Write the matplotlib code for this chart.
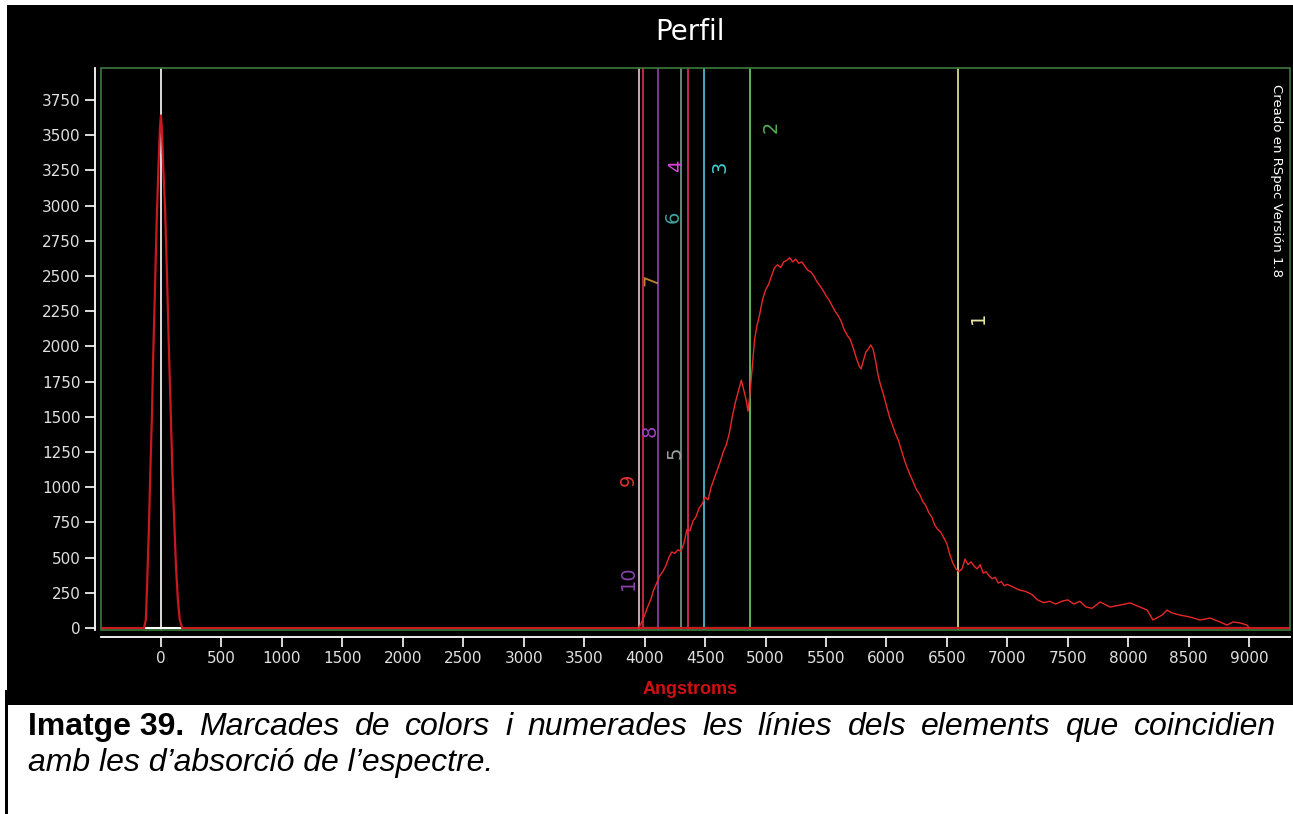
import matplotlib
matplotlib.use('Agg')
import matplotlib.pyplot as plt
from matplotlib.patches import Rectangle

# spectrum profile (wavelength in angstroms, counts)
peak_wl = [-500, -140, -125, -115, -100, -90, -75, -65, -50, -35, -20, -8, 0, 8, 20, 35, 50, 65, 80, 95, 110, 125, 140, 155, 175, 9340]
peak_val = [0, 0, 60, 300, 700, 1050, 1500, 1900, 2400, 2900, 3300, 3560, 3640, 3540, 3250, 2950, 2500, 2000, 1550, 1100, 750, 420, 200, 60, 0, 0]

spec_wl = [3950, 3975, 4000, 4025, 4050, 4075, 4100, 4125, 4150, 4175, 4200, 4225, 4250, 4275, 4300,
           4325, 4350, 4375, 4400, 4425, 4450, 4475, 4500, 4525, 4550, 4575, 4600, 4625, 4650, 4675,
           4700, 4725, 4750, 4775, 4800, 4820, 4840, 4855, 4870, 4890, 4910, 4930, 4950, 4975, 5000,
           5025, 5050, 5075, 5100, 5125, 5150, 5175, 5200, 5225, 5250, 5275, 5300, 5325, 5350, 5375,
           5400, 5425, 5450, 5475, 5500, 5525, 5550, 5575, 5600, 5625, 5650, 5675, 5700, 5725, 5750,
           5775, 5790, 5810, 5830, 5850, 5870, 5890, 5910, 5930, 5950, 5975, 6000, 6025, 6050, 6075,
           6100, 6125, 6150, 6175, 6200, 6225, 6250, 6275, 6300, 6325, 6350, 6375, 6400, 6425, 6450,
           6475, 6500, 6525, 6550, 6575, 6600, 6625, 6650, 6675, 6700, 6725, 6750, 6775, 6800, 6825,
           6850, 6875, 6900, 6925, 6950, 6975, 7000, 7050, 7100, 7150, 7200, 7250, 7300, 7350, 7400,
           7450, 7500, 7550, 7600, 7650, 7700, 7767, 7850, 7932, 8015, 8098, 8156, 8205, 8280, 8321,
           8362, 8429, 8511, 8594, 8677, 8759, 8817, 8867, 8925, 8983, 9000]
spec_val = [0, 40, 90, 150, 200, 270, 320, 370, 400, 440, 500, 540, 530, 555, 545,
            600, 700, 690, 760, 790, 850, 880, 930, 910, 1000, 1060, 1120, 1180, 1250, 1300,
            1380, 1500, 1600, 1680, 1760, 1690, 1620, 1540, 1650, 1850, 2050, 2150, 2220, 2330, 2400,
            2440, 2500, 2560, 2580, 2560, 2600, 2610, 2630, 2600, 2620, 2590, 2600, 2570, 2540, 2530,
            2500, 2460, 2430, 2400, 2360, 2330, 2290, 2250, 2220, 2180, 2120, 2080, 2050, 1990, 1920,
            1860, 1840, 1900, 1960, 1980, 2010, 1980, 1900, 1800, 1730, 1660, 1580, 1500, 1440, 1380,
            1330, 1260, 1190, 1130, 1080, 1030, 980, 950, 900, 870, 820, 790, 730, 700, 680,
            640, 600, 520, 460, 420, 400, 420, 490, 450, 470, 440, 420, 450, 390, 400,
            370, 350, 360, 320, 330, 300, 310, 290, 270, 260, 240, 200, 180, 190, 170,
            190, 200, 170, 190, 150, 140, 185, 149, 163, 178, 149, 128, 57, 92, 128,
            107, 92, 78, 57, 71, 43, 21, 43, 36, 21, 0]

# marked element lines
line_wl = [0, 3950, 3985, 4110, 4305, 4355, 4490, 4870, 6590]
line_colors = ['#ffffff', '#e8c4cc', '#e0304a', '#9640b4', '#70a48c', '#e0306a', '#50c8e0', '#70d070', '#ece8a0']

label_text = ['1', '2', '3', '4', '5', '6', '7', '8', '9', '10']
label_x = [6760, 5050, 4620, 4265, 4250, 4240, 4060, 4045, 3865, 3865]
label_y = [2200, 3560, 3275, 3280, 1245, 2920, 2470, 1400, 1050, 360]
label_colors = ['#e8e8a0', '#50b050', '#40d0d0', '#e040e0', '#a0a0a0', '#40a0a0', '#c08030', '#a040c0', '#e03030', '#8a40a8']

caption_bold = 'Imatge 39.'
caption_line1 = 'Marcades de colors i numerades les línies dels elements que coincidien'
caption_line2 = 'amb les d\u2019absorció de l\u2019espectre.'

fig = plt.figure(figsize=(12.93, 8.14), dpi=100, facecolor='white')
W, H = 1293.0, 814.0

# black screenshot panel + side bar
fig.patches.append(Rectangle((7 / W, 1 - 705 / H), 1 - 7 / W, 700 / H, transform=fig.transFigure,
                             facecolor='black', edgecolor='none', zorder=-5))
fig.patches.append(Rectangle((5 / W, 0), 3 / W, 1 - 690 / H, transform=fig.transFigure,
                             facecolor='black', edgecolor='none', zorder=-5))

ax = fig.add_axes([101 / W, 1 - 630 / H, (1290 - 101) / W, (630 - 68) / H])
ax.set_zorder(2)
ax.set_facecolor('black')
ax.set_xlim(-496, 9338)
ax.set_ylim(-14, 3977)

for wl, c in zip(line_wl, line_colors):
    ax.axvline(wl, color=c, lw=1.2, zorder=2)

ax.hlines(0, -130, 170, color='white', lw=1.5, zorder=3)
ax.hlines(0, 3930, 9000, color='white', lw=1.5, zorder=3)
ax.plot(peak_wl, peak_val, color='#c81820', lw=1.6, zorder=4)
ax.plot(spec_wl, spec_val, color='#e82828', lw=1.0, zorder=4)

for t, x, y, c in zip(label_text, label_x, label_y, label_colors):
    ax.text(x, y, t, color=c, fontsize=14, rotation=90, ha='center', va='center', zorder=5)

ax.add_patch(Rectangle((0, 0), 1, 1, transform=ax.transAxes, fill=False,
                       edgecolor='#3c7a3c', lw=1.2, clip_on=False, zorder=6))

for s in ['top', 'right']:
    ax.spines[s].set_visible(False)
ax.spines['left'].set_position(('outward', 4.5))
ax.spines['bottom'].set_position(('outward', 5))
for s in ['left', 'bottom']:
    ax.spines[s].set_color('white')
    ax.spines[s].set_linewidth(1.3)

ax.set_xticks(range(0, 9001, 500))
ax.set_yticks(range(0, 3751, 250))
ax.tick_params(colors='white', labelcolor='#e0e0e0', labelsize=11, length=7, width=1.2, pad=3)

fig.text(690 / W, 1 - 32 / H, 'Perfil', color='white', fontsize=20, ha='center', va='center')
fig.text(690 / W, 1 - 690 / H, 'Angstroms', color='#d01010', fontsize=13, fontweight='bold',
         family='Liberation Sans', ha='center', va='center')
fig.text(1276 / W, 1 - 84 / H, 'Creado en RSpec Versión 1.8', color='white', fontsize=9.5,
         rotation=270, ha='center', va='top')

# caption below the screenshot, first line justified to the right margin
cap_left, cap_right = 28, 1276
y1 = 1 - 735 / H
y2 = 1 - 771 / H
renderer = fig.canvas.get_renderer()
words = [(caption_bold, 'normal', 'bold')] + [(w, 'italic', 'normal') for w in caption_line1.split()]
texts = []
total = 0
for w, st, fw in words:
    t = fig.text(0, y1, w, fontsize=23, style=st, fontweight=fw, family='Liberation Sans',
                 ha='left', va='baseline')
    wpx = t.get_window_extent(renderer=renderer).width
    texts.append((t, wpx))
    total += wpx
gap = (cap_right - cap_left - total) / (len(texts) - 1)
x = cap_left
for t, wpx in texts:
    t.set_x(x / W)
    x += wpx + gap
fig.text(cap_left / W, y2, caption_line2, fontsize=23, style='italic',
         family='Liberation Sans', ha='left', va='baseline')

fig.savefig('out.png', dpi=100, facecolor='white')
